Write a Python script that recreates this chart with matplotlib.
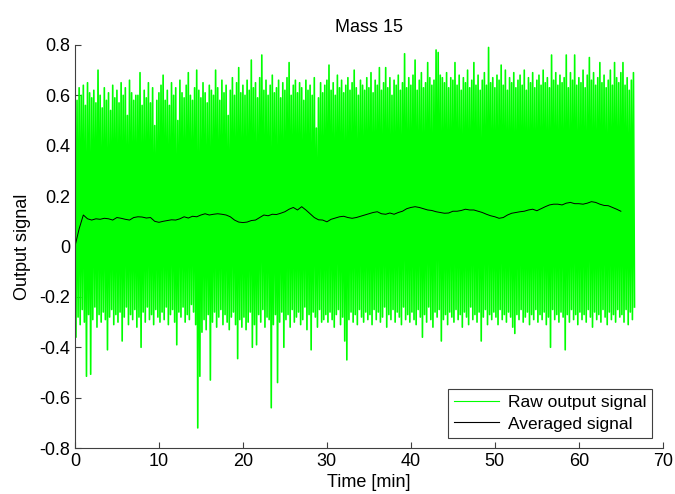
import numpy as np
import matplotlib
matplotlib.use('Agg')
import matplotlib.pyplot as plt

plt.rcParams['font.family'] = ['Liberation Sans', 'DejaVu Sans']

# raw signal: local peak / trough read per 0.25 min bin (t = 0 .. 66.5)
raw_step = 0.25
raw_peaks = [
    0.66, 0.58, 0.63, 0.60, 0.64, 0.56, 0.65, 0.61, 0.59, 0.62, 0.57, 0.70, 0.60, 0.55, 0.63, 0.58, 0.61, 0.54, 0.64, 0.59,
    0.62, 0.57, 0.65, 0.60, 0.63, 0.52, 0.66, 0.61, 0.58, 0.60, 0.60, 0.69, 0.56, 0.62, 0.59, 0.65, 0.57, 0.63, 0.48, 0.58,
    0.61, 0.64, 0.68, 0.58, 0.62, 0.56, 0.65, 0.60, 0.63, 0.50, 0.66, 0.61, 0.59, 0.64, 0.69, 0.60, 0.58, 0.63, 0.70, 0.62,
    0.59, 0.65, 0.61, 0.57, 0.64, 0.62, 0.60, 0.70, 0.63, 0.58, 0.66, 0.61, 0.64, 0.52, 0.62, 0.67, 0.60, 0.65, 0.71, 0.61,
    0.64, 0.60, 0.66, 0.62, 0.74, 0.63, 0.65, 0.59, 0.67, 0.76, 0.62, 0.66, 0.60, 0.64, 0.68, 0.61, 0.63, 0.66, 0.59, 0.65,
    0.62, 0.67, 0.73, 0.60, 0.64, 0.66, 0.61, 0.65, 0.63, 0.58, 0.66, 0.62, 0.64, 0.60, 0.67, 0.47, 0.59, 0.65, 0.61, 0.64,
    0.66, 0.72, 0.62, 0.65, 0.60, 0.68, 0.63, 0.66, 0.61, 0.64, 0.67, 0.62, 0.65, 0.70, 0.63, 0.60, 0.66, 0.64, 0.62, 0.67,
    0.63, 0.69, 0.61, 0.66, 0.64, 0.71, 0.62, 0.65, 0.71, 0.63, 0.67, 0.60, 0.66, 0.64, 0.68, 0.62, 0.65, 0.765, 0.63, 0.67,
    0.64, 0.68, 0.74, 0.62, 0.66, 0.69, 0.63, 0.65, 0.73, 0.67, 0.64, 0.66, 0.78, 0.77, 0.68, 0.67, 0.65, 0.69, 0.63, 0.67,
    0.66, 0.73, 0.64, 0.68, 0.62, 0.67, 0.65, 0.70, 0.63, 0.66, 0.73, 0.64, 0.68, 0.62, 0.66, 0.69, 0.64, 0.79, 0.65, 0.67,
    0.63, 0.68, 0.66, 0.72, 0.64, 0.70, 0.62, 0.67, 0.65, 0.69, 0.63, 0.66, 0.68, 0.64, 0.70, 0.62, 0.67, 0.65, 0.69, 0.63,
    0.66, 0.68, 0.64, 0.70, 0.65, 0.67, 0.63, 0.76, 0.66, 0.69, 0.64, 0.68, 0.65, 0.67, 0.76, 0.63, 0.69, 0.66, 0.76, 0.64,
    0.67, 0.65, 0.70, 0.63, 0.68, 0.75, 0.66, 0.69, 0.64, 0.67, 0.73, 0.65, 0.68, 0.63, 0.66, 0.70, 0.64, 0.73, 0.67, 0.65,
    0.69, 0.73, 0.64, 0.67, 0.62, 0.66, 0.69,
]
raw_troughs = [
    -0.36, -0.28, -0.31, -0.25, -0.30, -0.515, -0.27, -0.507, -0.29, -0.24, -0.32, -0.27, -0.30, -0.26, -0.29, -0.41, -0.28, -0.25, -0.31, -0.27,
    -0.30, -0.26, -0.375, -0.28, -0.24, -0.31, -0.27, -0.29, -0.25, -0.32, -0.28, -0.40, -0.26, -0.30, -0.24, -0.29, -0.27, -0.31, -0.25, -0.28,
    -0.30, -0.26, -0.29, -0.24, -0.31, -0.27, -0.25, -0.30, -0.39, -0.26, -0.28, -0.24, -0.30, -0.27, -0.29, -0.23, -0.26, -0.31, -0.72, -0.515,
    -0.34, -0.29, -0.33, -0.27, -0.53, -0.30, -0.26, -0.32, -0.28, -0.25, -0.31, -0.27, -0.30, -0.33, -0.28, -0.26, -0.31, -0.445, -0.29, -0.32,
    -0.28, -0.33, -0.30, -0.26, -0.40, -0.31, -0.39, -0.27, -0.30, -0.25, -0.32, -0.28, -0.29, -0.64, -0.31, -0.27, -0.54, -0.30, -0.26, -0.40,
    -0.29, -0.27, -0.32, -0.25, -0.30, -0.28, -0.26, -0.31, -0.29, -0.24, -0.33, -0.27, -0.41, -0.26, -0.28, -0.32, -0.25, -0.30, -0.29, -0.27,
    -0.30, -0.26, -0.29, -0.32, -0.27, -0.25, -0.31, -0.28, -0.375, -0.45, -0.29, -0.26, -0.30, -0.27, -0.31, -0.25, -0.28, -0.30, -0.26, -0.29,
    -0.27, -0.31, -0.25, -0.29, -0.26, -0.30, -0.28, -0.24, -0.32, -0.27, -0.29, -0.25, -0.30, -0.26, -0.28, -0.31, -0.24, -0.29, -0.27, -0.30,
    -0.26, -0.29, -0.31, -0.25, -0.28, -0.36, -0.27, -0.30, -0.24, -0.29, -0.32, -0.26, -0.28, -0.25, -0.375, -0.29, -0.27, -0.31, -0.26, -0.28,
    -0.30, -0.25, -0.29, -0.27, -0.32, -0.26, -0.28, -0.31, -0.24, -0.29, -0.27, -0.30, -0.26, -0.375, -0.28, -0.25, -0.31, -0.27, -0.29, -0.26,
    -0.28, -0.31, -0.25, -0.29, -0.27, -0.30, -0.26, -0.28, -0.32, -0.345, -0.27, -0.29, -0.25, -0.30, -0.28, -0.26, -0.31, -0.27, -0.29, -0.25,
    -0.30, -0.27, -0.29, -0.26, -0.31, -0.28, -0.40, -0.25, -0.29, -0.27, -0.30, -0.26, -0.28, -0.41, -0.27, -0.30, -0.25, -0.29, -0.27, -0.31,
    -0.26, -0.29, -0.27, -0.30, -0.25, -0.28, -0.32, -0.26, -0.29, -0.27, -0.30, -0.25, -0.28, -0.31, -0.26, -0.29, -0.27, -0.30, -0.25, -0.28,
    -0.27, -0.30, -0.25, -0.31, -0.26, -0.29, -0.24,
]

# averaged signal every 0.5 min (t = 0 .. 65)
avg_step = 0.5
avg_vals = [
    0.0, 0.07, 0.125, 0.11, 0.105, 0.11, 0.108, 0.112, 0.11, 0.105,
    0.115, 0.112, 0.108, 0.105, 0.115, 0.118, 0.117, 0.113, 0.115, 0.10,
    0.096, 0.10, 0.103, 0.106, 0.105, 0.11, 0.118, 0.113, 0.12, 0.118,
    0.125, 0.13, 0.125, 0.128, 0.13, 0.128, 0.125, 0.118, 0.105, 0.097,
    0.095, 0.097, 0.103, 0.105, 0.115, 0.125, 0.122, 0.128, 0.127, 0.132,
    0.138, 0.148, 0.155, 0.145, 0.158, 0.145, 0.13, 0.115, 0.106, 0.105,
    0.098, 0.108, 0.113, 0.118, 0.12, 0.115, 0.112, 0.115, 0.12, 0.125,
    0.13, 0.135, 0.138, 0.13, 0.128, 0.133, 0.128, 0.135, 0.14, 0.15,
    0.155, 0.158, 0.155, 0.15, 0.145, 0.143, 0.138, 0.135, 0.132, 0.133,
    0.14, 0.14, 0.143, 0.148, 0.145, 0.145, 0.14, 0.135, 0.128, 0.122,
    0.118, 0.112, 0.115, 0.125, 0.132, 0.135, 0.138, 0.14, 0.145, 0.148,
    0.142, 0.15, 0.158, 0.165, 0.168, 0.168, 0.165, 0.172, 0.175, 0.17,
    0.17, 0.168, 0.172, 0.178, 0.175, 0.168, 0.163, 0.162, 0.155, 0.148,
    0.14,
]

# interleave peaks and troughs -> raw trace sampled every half bin
pk = np.array(raw_peaks); tr = np.array(raw_troughs)
raw_y = np.empty(2 * len(pk)); raw_y[0::2] = pk; raw_y[1::2] = tr
raw_t = np.arange(len(raw_y)) * raw_step / 2
avg_t = np.arange(len(avg_vals)) * avg_step

fig = plt.figure(figsize=(6.75, 4.94), dpi=100)
ax = fig.add_axes([0.111, 0.093, 0.871, 0.816])
ax.plot(raw_t, raw_y, color=(0, 1, 0), lw=1.2, label='Raw output signal')
ax.plot(avg_t, avg_vals, color='k', lw=0.7, label='Averaged signal')

ax.set_xlim(0, 70); ax.set_ylim(-0.8, 0.8)
ax.set_xticks(np.arange(0, 71, 10))
ax.set_yticks(np.round(np.arange(-0.8, 0.81, 0.2), 1))
ax.set_yticklabels(['-0.8', '-0.6', '-0.4', '-0.2', '0', '0.2', '0.4', '0.6', '0.8'])
ax.tick_params(direction='in', length=4, labelsize=13, colors='#404040', labelcolor='k')
for s in ('top', 'right'):
    ax.spines[s].set_visible(False)
for s in ('left', 'bottom'):
    ax.spines[s].set_color('#404040')

ax.set_title('Mass 15', fontsize=13, pad=9)
ax.set_xlabel('Time [min]', fontsize=13, labelpad=3)
ax.set_ylabel('Output signal', fontsize=13, labelpad=6)

leg = ax.legend(loc='lower right', fontsize=12.5, fancybox=False, edgecolor='#404040',
                framealpha=1, borderaxespad=0.6, handlelength=2.6, labelspacing=0.35,
                borderpad=0.35, handletextpad=0.5)
leg.get_frame().set_linewidth(0.8)
for h in leg.get_lines():
    h.set_linewidth(0.8)

fig.savefig('out.png', dpi=100)
